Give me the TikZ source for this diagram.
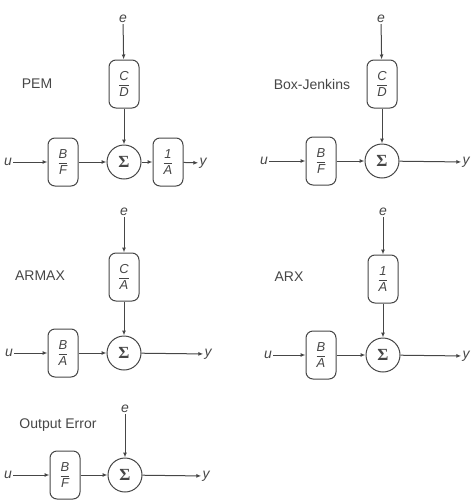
\documentclass[tikz,border=0pt]{standalone}
\usepackage{fontspec}
\setmainfont{Liberation Sans}
\newfontfamily\sigfont{Liberation Serif}
\usetikzlibrary{arrows.meta}
\definecolor{ink}{RGB}{70,70,70}
\newcommand{\tf}[2]{$\displaystyle\frac{\mbox{\itshape #1}}{\mbox{\itshape #2}}$}
\tikzset{
  every node/.style={text=ink},
  blk/.style={draw=ink, line width=1pt, rounded corners=7pt, minimum width=30pt,
              minimum height=48pt, inner sep=0pt, font=\fontsize{13}{15}\selectfont},
  sumnode/.style={draw=ink, line width=1pt, circle, minimum size=34pt, inner sep=0pt,
              font=\fontsize{17}{19}\selectfont\sigfont\bfseries},
  sig/.style={inner sep=1pt, font=\fontsize{14}{16}\selectfont\itshape},
  title/.style={inner sep=0pt, font=\fontsize{14}{16}\selectfont},
  flow/.style={draw=ink, line width=1pt, -{Latex[length=5pt,width=4pt]}}
}
\begin{document}
\begin{tikzpicture}[x=1pt,y=-1pt]
\useasboundingbox (0,0) rectangle (476,504);

% PEM
\node[title] (pemL) at (37,84) {PEM};
\node[sig] (pemE) at (123,19) {e};
\node[blk] (pemCD) at (124,84) {\tf{C}{D}};
\node[sumnode] (pemS) at (124,162) {Σ};
\node[blk] (pemBF) at (63,162) {\tf{B}{F}};
\node[blk] (pemIA) at (168,162) {\tf{1}{A}};
\node[sig] (pemU) at (8,162) {u};
\node[sig] (pemY) at (203,163) {y};
\draw[flow] (pemE) -- (pemCD);
\draw[flow] (pemCD) -- (pemS);
\draw[flow] (pemU) -- (pemBF);
\draw[flow] (pemBF) -- (pemS);
\draw[flow] (pemS) -- (pemIA);
\draw[flow] (pemIA) -- (pemY);

% Box-Jenkins
\node[title] (bjL) at (312,84) {Box-Jenkins};
\node[sig] (bjE) at (381,19) {e};
\node[blk] (bjCD) at (382,84) {\tf{C}{D}};
\node[sumnode] (bjS) at (382,161) {Σ};
\node[blk] (bjBF) at (321,161) {\tf{B}{F}};
\node[sig] (bjU) at (264,161) {u};
\node[sig] (bjY) at (466,162) {y};
\draw[flow] (bjE) -- (bjCD);
\draw[flow] (bjCD) -- (bjS);
\draw[flow] (bjU) -- (bjBF);
\draw[flow] (bjBF) -- (bjS);
\draw[flow] (bjS) -- (bjY);

% ARMAX
\node[title] (amL) at (40,276) {ARMAX};
\node[sig] (amE) at (124,212) {e};
\node[blk] (amCA) at (124,277) {\tf{C}{A}};
\node[sumnode] (amS) at (124,353) {Σ};
\node[blk] (amBA) at (63,353) {\tf{B}{A}};
\node[sig] (amU) at (9,353) {u};
\node[sig] (amY) at (208,354) {y};
\draw[flow] (amE) -- (amCA);
\draw[flow] (amCA) -- (amS);
\draw[flow] (amU) -- (amBA);
\draw[flow] (amBA) -- (amS);
\draw[flow] (amS) -- (amY);

% ARX
\node[title] (axL) at (289,277) {ARX};
\node[sig] (axE) at (383,212) {e};
\node[blk] (axIA) at (383,279) {\tf{1}{A}};
\node[sumnode] (axS) at (383,355) {Σ};
\node[blk] (axBA) at (321,355) {\tf{B}{A}};
\node[sig] (axU) at (268,355) {u};
\node[sig] (axY) at (466,356) {y};
\draw[flow] (axE) -- (axIA);
\draw[flow] (axIA) -- (axS);
\draw[flow] (axU) -- (axBA);
\draw[flow] (axBA) -- (axS);
\draw[flow] (axS) -- (axY);

% Output Error
\node[title] (oeL) at (58,425) {Output Error};
\node[sig] (oeE) at (125,409) {e};
\node[sumnode] (oeS) at (125,475) {Σ};
\node[blk] (oeBF) at (65,475) {\tf{B}{F}};
\node[sig] (oeU) at (8,475) {u};
\node[sig] (oeY) at (206,476) {y};
\draw[flow] (oeE) -- (oeS);
\draw[flow] (oeU) -- (oeBF);
\draw[flow] (oeBF) -- (oeS);
\draw[flow] (oeS) -- (oeY);
\end{tikzpicture}
\end{document}
